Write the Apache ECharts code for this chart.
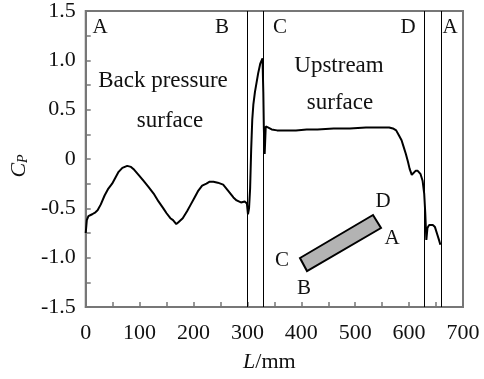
<!DOCTYPE html>
<html>
<head>
<meta charset="utf-8">
<script src="https://cdn.jsdelivr.net/npm/echarts@6/dist/echarts.min.js"></script>
<style>
  html, body { margin: 0; padding: 0; background: #fff; }
  #chart { width: 484px; height: 379px; }
</style>
</head>
<body>
<div id="chart"></div>
<script>
// Pressure coefficient along the section perimeter
const lengthMm = [
  0, 2, 5, 12, 18, 22, 28, 35, 42, 49, 55, 61, 68, 77, 84, 90, 98, 107, 116, 126,
  135, 144, 150, 157, 162, 168, 172, 175, 180, 188, 194, 202, 209, 216, 224, 230,
  237, 245, 255, 261, 267, 274, 280, 288, 295, 299, 301, 303, 305, 307, 309, 311,
  314, 320, 324, 328, 329.5, 330.5, 332, 334, 338, 345, 355, 370, 390, 410, 430,
  460, 490, 520, 545, 563, 570, 576, 581, 586, 590, 594, 598, 601, 605, 608, 612,
  616, 621, 625, 628, 630, 632, 634, 637, 644, 648, 652, 656, 658
]
const cpValues = [
  -0.75, -0.62, -0.58, -0.56, -0.54, -0.52, -0.46, -0.37, -0.30, -0.25, -0.19, -0.13, -0.09, -0.07, -0.08, -0.11, -0.16, -0.22, -0.28, -0.35,
  -0.43, -0.50, -0.55, -0.60, -0.62, -0.66, -0.64, -0.63, -0.60, -0.53, -0.47, -0.39, -0.32, -0.27, -0.25, -0.23,
  -0.23, -0.24, -0.26, -0.30, -0.34, -0.39, -0.42, -0.44, -0.43, -0.45, -0.56, -0.50, -0.30, 0.10, 0.40, 0.55,
  0.68, 0.87, 0.97, 1.02, 0.68, 0.31, 0.05, 0.33, 0.32, 0.30, 0.29, 0.29, 0.29, 0.30, 0.30,
  0.31, 0.31, 0.32, 0.32, 0.32, 0.31, 0.29, 0.24, 0.19, 0.12, 0.05, -0.03, -0.10, -0.16, -0.17, -0.12,
  -0.12, -0.15, -0.22, -0.35, -0.55, -0.82, -0.70, -0.67, -0.67, -0.69, -0.76, -0.83, -0.87
]
// corner positions A, B, C, D, A (vertical separators)
const cornerLines = [300, 330, 628, 660]

const serif = '"Liberation Serif", "DejaVu Serif", serif'
const axisGrey = '#777'

const chart = echarts.init(document.getElementById('chart'))

const text = (str, x, y, size) => ({
  type: 'text', x, y, z: 100,
  style: { text: str, font: `${size}px ${serif}`, fill: '#111', align: 'center', verticalAlign: 'middle' }
})

chart.setOption({
  animation: false,
  backgroundColor: '#fff',
  grid: { left: 83, right: 21, top: 8, bottom: 72, show: true, borderColor: axisGrey, borderWidth: 2 },
  xAxis: {
    type: 'value', min: 0, max: 700, interval: 100,
    name: '{l|L}/mm', nameLocation: 'middle', nameGap: 44,
    nameTextStyle: { fontFamily: serif, fontSize: 22, color: '#111', padding: [0, 10, 0, 0],
      rich: { l: { fontFamily: serif, fontSize: 22, fontStyle: 'italic', color: '#111' } } },
    axisLine: { onZero: false, lineStyle: { color: axisGrey, width: 2 } },
    axisTick: { inside: true, length: 5, lineStyle: { color: axisGrey, width: 1.5 } },
    minorTick: { show: true, splitNumber: 2, length: 5, lineStyle: { color: axisGrey, width: 1.5 } },
    splitLine: { show: false },
    axisLabel: { fontFamily: serif, fontSize: 22, color: '#111', margin: 15 }
  },
  yAxis: {
    type: 'value', min: -1.5, max: 1.5, interval: 0.5,
    name: '{c|C}{p|P}', nameLocation: 'middle', nameGap: 44,
    nameTextStyle: { color: '#111', padding: [0, 14, 0, 0],
      rich: {
        c: { fontFamily: serif, fontSize: 22, fontStyle: 'italic', color: '#111' },
        p: { fontFamily: serif, fontSize: 14, fontStyle: 'italic', color: '#111', padding: [8, 0, 0, 0] }
      } },
    axisLine: { onZero: false, lineStyle: { color: axisGrey, width: 2 } },
    axisTick: { inside: true, length: 5, lineStyle: { color: axisGrey, width: 1.5 } },
    minorTick: { show: true, splitNumber: 2, length: 5, lineStyle: { color: axisGrey, width: 1.5 } },
    splitLine: { show: false },
    axisLabel: { fontFamily: serif, fontSize: 22, color: '#111', margin: 10,
      formatter: (v) => v === 0 ? '0' : v.toFixed(1) }
  },
  series: [{
    type: 'line',
    data: lengthMm.map((l, i) => [l, cpValues[i]]),
    symbol: 'none',
    lineStyle: { color: '#000', width: 2 },
    markLine: {
      silent: true, symbol: 'none', label: { show: false },
      lineStyle: { color: '#000', width: 1, type: 'solid' },
      data: cornerLines.map((x) => ({ xAxis: x }))
    }
  }],
  graphic: [
    text('A', 100, 27, 21), text('B', 222, 27, 21), text('C', 280, 27, 21),
    text('D', 408, 27, 21), text('A', 450, 27, 21),
    text('Back pressure', 163, 81, 23), text('surface', 170, 121, 23),
    text('Upstream', 339, 66, 23), text('surface', 340, 103, 23),
    {
      type: 'polygon', z: 100,
      shape: { points: [[300, 258], [373, 215], [381, 228], [307, 271]] },
      style: { fill: '#b3b3b3', stroke: '#000', lineWidth: 2 }
    },
    text('D', 383, 201, 21), text('A', 392, 238, 21),
    text('C', 282, 260, 21), text('B', 304, 288, 21)
  ]
})
</script>
</body>
</html>
